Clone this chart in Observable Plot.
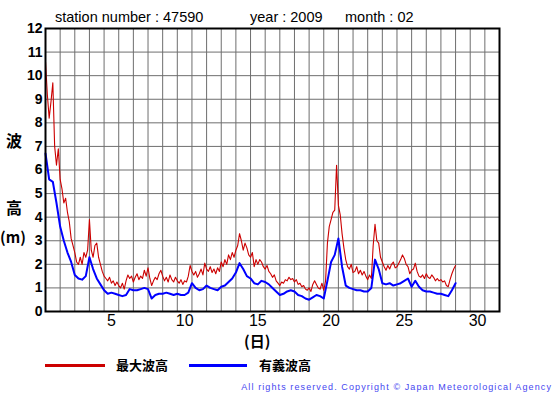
<!DOCTYPE html>
<html>
<head>
<meta charset="utf-8">
<script src="https://cdn.jsdelivr.net/npm/d3@7"></script>
<script src="https://cdn.jsdelivr.net/npm/@observablehq/plot@0.6"></script>
<style>
  html, body { margin: 0; padding: 0; background: #fff; }
  #wrap { position: relative; width: 555px; height: 395px; overflow: hidden; font-family: "Liberation Sans", Arial, sans-serif; }
  #wrap svg { position: absolute; left: 0; top: 0; }
  .t { position: absolute; white-space: nowrap; line-height: 1; }
  .jp { font-family: "Noto Sans CJK JP", sans-serif; font-weight: bold; }
  .leg { position: absolute; height: 3px; }
</style>
</head>
<body>
<div id="wrap"></div>
<script>
// ---- data ----
const stationNumber = "47590";
const year = "2009";
const month = "02";
const seriesNames = ["最大波高", "有義波高"];
const seriesColors = ["#cc0000", "#0000ff"];
// max wave height (m), every 1/8 day from Feb 1 00:00 (one row per day)
const maxStep = 0.125;
const maxWave = [
  10.6, 9.2, 8.2, 8.9, 9.7, 7.0, 6.2, 6.9,
  5.6, 5.2, 4.6, 4.8, 4.2, 3.8, 3.1, 2.8,
  2.5, 2.1, 2.0, 2.3, 2.0, 2.5, 2.3, 2.6,
  3.9, 2.6, 2.3, 2.8, 2.9, 2.3, 2.0, 1.7,
  1.5, 1.4, 1.3, 1.45, 1.2, 1.3, 1.1, 1.25,
  1.1, 1.0, 1.2, 0.95, 1.3, 1.55, 1.4, 1.5,
  1.25, 1.45, 1.6, 1.35, 1.5, 1.4, 1.75, 1.5,
  1.85, 1.4, 1.1, 1.3, 1.45, 1.35, 1.6, 1.75,
  1.5, 1.3, 1.45, 1.25, 1.55, 1.35, 1.25, 1.45,
  1.3, 1.2, 1.35, 1.15, 1.3, 1.25, 1.5, 1.95,
  1.7, 1.55, 1.7, 1.45, 1.6, 1.8, 1.55, 2.05,
  1.8, 1.7, 1.9, 1.65, 1.8, 1.6, 1.85, 1.7,
  2.1, 1.9, 2.2, 2.0, 2.4, 2.2, 2.5, 2.3,
  2.6, 2.8, 3.3, 3.0, 2.6, 2.9, 2.7, 2.4,
  2.3, 2.5, 1.9, 2.2, 2.0, 2.2, 2.1, 1.9,
  1.8, 1.95, 1.7, 1.6, 1.45, 1.55, 1.3, 1.2,
  1.1, 1.25, 1.2, 1.35, 1.3, 1.45, 1.35, 1.4,
  1.25, 1.35, 1.15, 1.2, 1.05, 1.1, 0.95, 0.9,
  1.0, 0.85, 1.15, 1.3, 1.15, 1.0, 0.95, 1.2,
  0.9, 1.3, 2.9, 3.6, 3.9, 4.2, 4.3, 6.2,
  4.5, 4.1, 3.3, 2.7, 2.2, 1.9, 1.8, 2.0,
  1.65, 1.7, 1.9, 1.6, 1.75, 1.55, 1.7, 1.5,
  1.35, 1.55, 1.4, 2.8, 3.7, 3.0, 2.9, 2.3,
  2.1, 1.9, 1.75, 1.95, 1.8, 2.0, 2.1, 1.85,
  1.9, 2.05, 2.2, 2.4, 2.25, 2.0, 1.9, 1.6,
  1.75, 1.8, 2.05, 1.7, 1.5, 1.45, 1.55, 1.4,
  1.6, 1.45, 1.4, 1.55, 1.45, 1.3, 1.4, 1.3,
  1.35, 1.25, 1.3, 1.1, 1.05, 1.35, 1.6, 1.8,
  1.95
];
// significant wave height (m), every 1/4 day (one row per day)
const sigStep = 0.25;
const sigWave = [
  6.7, 5.6, 5.5, 4.6,
  3.6, 3.0, 2.5, 2.1,
  1.55, 1.4, 1.35, 1.5,
  2.3, 1.8, 1.4, 1.15,
  0.9, 0.75, 0.8, 0.75,
  0.7, 0.65, 0.7, 0.95,
  0.9, 0.9, 0.95, 1.0,
  0.95, 0.55, 0.7, 0.75,
  0.75, 0.8, 0.75, 0.7,
  0.75, 0.7, 0.7, 0.8,
  1.2, 1.0, 0.9, 0.95,
  1.1, 1.0, 0.95, 0.9,
  1.05, 1.1, 1.25, 1.4,
  1.65, 2.05, 1.8, 1.5,
  1.4, 1.2, 1.15, 1.3,
  1.25, 1.15, 1.0, 0.85,
  0.7, 0.75, 0.85, 0.9,
  0.85, 0.7, 0.65, 0.55,
  0.5, 0.6, 0.7, 0.65,
  0.55, 1.3, 2.1, 2.4,
  3.1, 1.9, 1.1, 1.0,
  0.95, 0.9, 0.9, 0.85,
  0.85, 1.0, 2.2, 1.8,
  1.2, 1.15, 1.2, 1.1,
  1.15, 1.2, 1.3, 1.4,
  1.05, 1.3, 1.05, 0.9,
  0.85, 0.85, 0.8, 0.75,
  0.75, 0.7, 0.65, 0.9,
  1.2
];
const dayLabels = [5, 10, 15, 20, 25, 30];
const yTicks = [0, 1, 2, 3, 4, 5, 6, 7, 8, 9, 10, 11, 12];

// ---- build ----
const maxData = maxWave.map((v, i) => ({t: i * maxStep, v}));
const sigData = sigWave.map((v, i) => ({t: i * sigStep, v}));

const chart = Plot.plot({
  width: 555,
  height: 395,
  marginLeft: 45,
  marginRight: 56,
  marginTop: 28,
  marginBottom: 84,
  x: {domain: [0, 31], axis: null, label: null},
  y: {domain: [0, 12], axis: null, label: null},
  style: {fontFamily: "'Liberation Sans', Arial, sans-serif", background: "white", color: "black"},
  marks: [
    Plot.gridX(d3.range(1, 31), {stroke: "#6e6e6e", strokeOpacity: 1, strokeWidth: 1}),
    Plot.gridY(d3.range(1, 12), {stroke: "#6e6e6e", strokeOpacity: 1, strokeWidth: 1}),
    Plot.line(maxData, {x: "t", y: "v", stroke: seriesColors[0], strokeWidth: 1.1}),
    Plot.line(sigData, {x: "t", y: "v", stroke: seriesColors[1], strokeWidth: 2}),
    Plot.frame({stroke: "black", strokeWidth: 2}),
    Plot.axisY(yTicks, {label: null, tickSize: 0, tickPadding: 3, fontWeight: "bold", fontSize: 14, tickFormat: d => String(d)}),
    Plot.axisX(dayLabels.map(d => d - 0.5), {label: null, tickSize: 0, tickPadding: 3, fontSize: 16, tickFormat: d => String(d + 0.5)})
  ]
});

const wrap = document.getElementById("wrap");
wrap.appendChild(chart);

function addText(txt, left, top, style) {
  const el = document.createElement("div");
  el.className = "t";
  el.textContent = txt;
  if (left !== null) el.style.left = left + "px";
  el.style.top = top + "px";
  Object.assign(el.style, style || {});
  wrap.appendChild(el);
  return el;
}
addText("station number : " + stationNumber, 55, 10, {fontSize: "14.5px"});
addText("year : " + year, 250, 10, {fontSize: "14.5px"});
addText("month : " + month, 345, 10, {fontSize: "14.5px"});

const yl1 = addText("波", 6, 132, {fontSize: "16px"}); yl1.classList.add("jp");
const yl2 = addText("高", 6, 199, {fontSize: "16px"}); yl2.classList.add("jp");
const yl3 = addText("(m)", 0, 229, {fontSize: "15px"}); yl3.classList.add("jp");
const xl = addText("(日)", 244, 333, {fontSize: "15px"}); xl.classList.add("jp");

function addLine(left, width, color) {
  const el = document.createElement("div");
  el.className = "leg";
  el.style.left = left + "px";
  el.style.top = "364px";
  el.style.width = width + "px";
  el.style.background = color;
  wrap.appendChild(el);
}
addLine(45, 60, seriesColors[0]);
const l1 = addText(seriesNames[0], 116, 358, {fontSize: "13px"}); l1.classList.add("jp");
addLine(189, 58, seriesColors[1]);
const l2 = addText(seriesNames[1], 259, 358, {fontSize: "13px"}); l2.classList.add("jp");

addText("All rights reserved. Copyright © Japan Meteorological Agency", null, 383,
  {right: "3px", fontSize: "9px", letterSpacing: "1.1px", color: "#4646f0"});
</script>
</body>
</html>
